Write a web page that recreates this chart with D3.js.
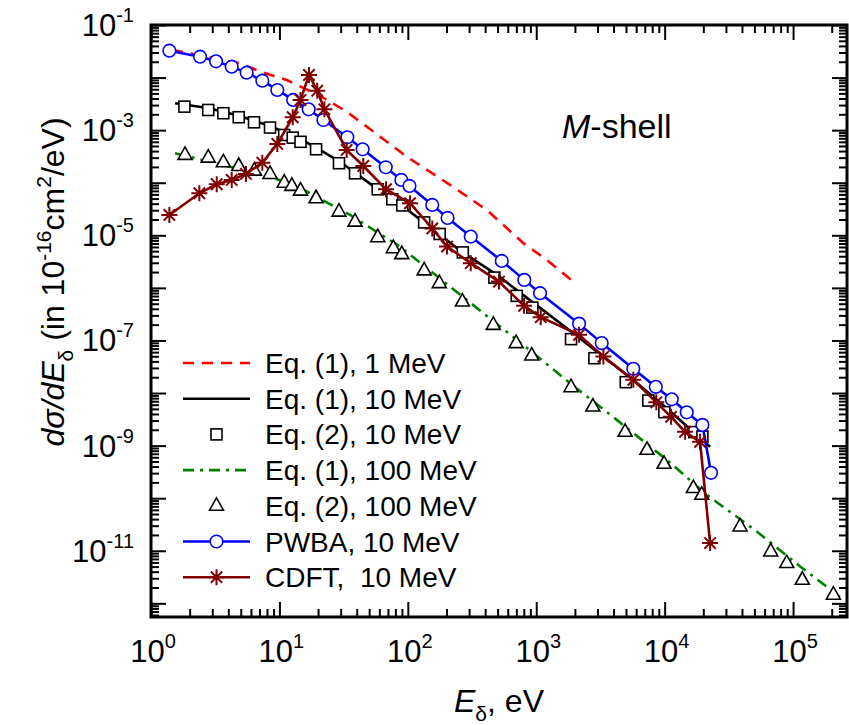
<!DOCTYPE html>
<html>
<head>
<meta charset="utf-8">
<script src="https://cdn.jsdelivr.net/npm/d3@7"></script>
<style>
    body { margin: 0; background: #fff; }
    svg { display: block; font-family: "Liberation Sans", Arial, sans-serif; }
</style>
</head>
<body>
<svg id="chart" width="849" height="725"></svg>
<script>
// Reeksen als [E (eV), dσ/dE].
var eq1_1MeV = [[1.46, 3.35e-2], [4.9, 1.87e-2], [7.5, 1.24e-2], [11.4, 9.0e-3], [20.7, 4.5e-3],
    [33.4, 2.25e-3], [53.8, 9.4e-4], [98, 3.13e-4], [213, 9.1e-5], [411, 3.04e-5],
    [794, 7.1e-6], [1208, 3.4e-6], [1945, 1.32e-6]];

var eq1_10MeV = [[1.54, 3.24e-3], [2.78, 2.64e-3], [4.93, 1.86e-3], [8.45, 1.2e-3], [14.5, 6.8e-4],
    [20.7, 4.2e-4], [29.6, 2.5e-4], [53.6, 8.7e-5], [86.9, 3.95e-5], [141, 1.58e-5],
    [264, 4.83e-6], [495, 1.77e-6], [1071, 4.17e-7], [1936, 1.39e-7], [5675, 1.78e-8],
    [10070, 5.47e-9], [16640, 1.83e-9], [22590, 9.5e-10]];

var eq2_10MeV = [[1.82, 2.8e-3], [2.79, 2.42e-3], [3.66, 2.1e-3], [4.82, 1.76e-3], [6.34, 1.41e-3],
    [8.45, 1.12e-3], [10.9, 8.1e-4], [12.7, 7.2e-4], [14.6, 6.0e-4], [19.3, 4.33e-4],
    [29.1, 2.35e-4], [38.8, 1.51e-4], [58.3, 7.5e-5], [75.7, 4.85e-5], [90.6, 3.7e-5],
    [134, 1.76e-5], [177, 1.06e-5], [268, 4.73e-6], [472, 1.57e-6], [705, 7.05e-7],
    [933, 4.22e-7], [1866, 1.06e-7], [2836, 4.6e-8], [4980, 1.61e-8], [7460, 7.2e-9],
    [9950, 4.33e-9], [17030, 1.81e-9], [19680, 1.49e-9]];

var eq1_100MeV = [[1.54, 3.63e-4], [8.45, 1.31e-4], [14.5, 7.96e-5], [35.5, 2.44e-5], [86.9, 6.1e-6],
    [949, 5.74e-8], [1832, 1.54e-8], [4236, 3.09e-9], [10380, 5.37e-10], [21280, 1.16e-10],
    [52120, 2.33e-11], [113500, 5.03e-12], [232000, 1.33e-12]];

var eq2_100MeV = [[1.84, 3.38e-4], [2.79, 3.0e-4], [3.66, 2.45e-4], [4.82, 2.08e-4], [6.38, 1.7e-4],
    [8.45, 1.47e-4], [10.9, 1.0e-4], [12.5, 8.7e-5], [14.6, 7.07e-5], [19.3, 5.07e-5],
    [29.1, 2.82e-5], [38.8, 1.82e-5], [58.3, 9.2e-6], [77.1, 5.69e-6], [89.7, 4.38e-6],
    [134, 2.15e-6], [176, 1.23e-6], [266, 5.5e-7], [463, 1.98e-7], [697, 8.9e-8],
    [922, 5.16e-8], [1866, 1.29e-8], [2760, 5.53e-9], [4920, 1.83e-9], [7290, 8.32e-10],
    [9890, 4.51e-10], [16740, 1.56e-10], [19450, 1.16e-10], [38650, 2.9e-11],
    [67000, 9.7e-12], [89300, 5.84e-12], [118000, 2.81e-12], [206000, 1.46e-12]];

var pwba_10MeV = [[1.39, 3.25e-2], [2.41, 2.5e-2], [3.21, 2.04e-2], [4.25, 1.61e-2], [5.56, 1.24e-2],
    [7.36, 8.73e-3], [9.63, 5.81e-3], [12.8, 3.75e-3], [16.9, 2.49e-3], [22.0, 1.56e-3],
    [33.8, 7.33e-4], [44.5, 4.33e-4], [67.3, 1.97e-4], [89.0, 1.13e-4], [103, 8.69e-5],
    [155, 3.78e-5], [204, 2.14e-5], [309, 9.45e-6], [539, 3.26e-6], [807, 1.42e-6],
    [1071, 7.93e-7], [2155, 2.09e-7], [3236, 8.9e-8], [5700, 2.89e-8], [8530, 1.31e-8],
    [11360, 7.59e-9], [14860, 4.3e-9], [19680, 2.48e-9], [22970, 3.04e-10]];

var cdft_10MeV = [[1.39, 2.44e-5], [2.38, 6.31e-5], [3.25, 9.35e-5], [4.25, 1.13e-4], [5.49, 1.47e-4],
    [7.36, 2.41e-4], [9.63, 5.47e-4], [12.7, 1.76e-3], [14.6, 3.75e-3], [17.0, 1.12e-2],
    [19.7, 5.64e-3], [22.4, 2.49e-3], [33.4, 4.21e-4], [45.0, 2.08e-4], [67.6, 7.52e-5],
    [104, 4.07e-5], [155, 1.35e-5], [202, 6.1e-6], [309, 2.95e-6], [513, 1.32e-6],
    [804, 4.55e-7], [1084, 2.77e-7], [2155, 1.28e-7], [3334, 4.94e-8], [5700, 1.78e-8],
    [8610, 6.65e-9], [11220, 3.53e-9], [14420, 1.83e-9], [18870, 1.18e-9], [22590, 1.4e-11]];

var xMajor = [1, 10, 100, 1e3, 1e4, 1e5];
var yMajor = [1e-12, 1e-11, 1e-10, 1e-9, 1e-8, 1e-7, 1e-6, 1e-5, 1e-4, 1e-3, 1e-2, 1e-1];
var yLabelled = [-1, -3, -5, -7, -9, -11];

var legendLabels = ['Eq. (1), 1 MeV', 'Eq. (1), 10 MeV', 'Eq. (2), 10 MeV', 'Eq. (1), 100 MeV',
    'Eq. (2), 100 MeV', 'PWBA, 10 MeV', 'CDFT,  10 MeV'];

(function () {
    'use strict';

    var L = 151, R = 847, T = 25, B = 617;
    var xMin = 1, xMax = 2.63e5, yMin = 5.5e-13, yMax = 0.1;

    var svg = d3.select('#chart');
    var x = d3.scaleLog().domain([xMin, xMax]).range([L, R]);
    var y = d3.scaleLog().domain([yMin, yMax]).range([B, T]);

    function minors(lo, hi) {
        var out = [];
        for (var e = Math.floor(Math.log10(lo)); e <= Math.ceil(Math.log10(hi)); e++) {
            for (var k = 2; k <= 9; k++) {
                var v = k * Math.pow(10, e);
                if (v > lo && v < hi) { out.push(v); }
            }
        }
        return out;
    }
    var xMinor = minors(xMin, xMax);
    var yMinor = minors(yMin, yMax);

    function styleAxis(g) {
        g.select('.domain').remove();
        g.selectAll('.tick line').attr('stroke', '#000').attr('stroke-width', 2);
        g.selectAll('.tick text').remove();
    }

    // Ticks naar binnen op alle vier de zijden.
    [[xMajor, 15], [xMinor, 8]].forEach(function (p) {
        svg.append('g').attr('transform', 'translate(0,' + B + ')')
            .call(d3.axisBottom(x).tickValues(p[0]).tickSize(-p[1]).tickSizeOuter(0)).call(styleAxis);
        svg.append('g').attr('transform', 'translate(0,' + T + ')')
            .call(d3.axisTop(x).tickValues(p[0]).tickSize(-p[1]).tickSizeOuter(0)).call(styleAxis);
    });
    [[yMajor, 15], [yMinor, 8]].forEach(function (p) {
        svg.append('g').attr('transform', 'translate(' + L + ',0)')
            .call(d3.axisLeft(y).tickValues(p[0]).tickSize(-p[1]).tickSizeOuter(0)).call(styleAxis);
        svg.append('g').attr('transform', 'translate(' + R + ',0)')
            .call(d3.axisRight(y).tickValues(p[0]).tickSize(-p[1]).tickSizeOuter(0)).call(styleAxis);
    });

    svg.append('rect').attr('x', L).attr('y', T).attr('width', R - L).attr('height', B - T)
        .attr('fill', 'none').attr('stroke', '#000').attr('stroke-width', 3);

    // Ticklabels 10^n
    xMajor.forEach(function (v) {
        var t = svg.append('text').attr('x', x(v) + 2).attr('y', 662)
            .attr('text-anchor', 'middle').attr('font-size', 31);
        t.append('tspan').text('10');
        t.append('tspan').attr('font-size', 20).attr('dy', -14).text(Math.round(Math.log10(v)));
    });
    yLabelled.forEach(function (e) {
        var t = svg.append('text').attr('x', 134).attr('y', y(Math.pow(10, e)) + 11)
            .attr('text-anchor', 'end').attr('font-size', 31);
        t.append('tspan').text('10');
        t.append('tspan').attr('font-size', 20).attr('dy', -14).text(String(e));
    });

    // Astitels
    var xt = svg.append('text').attr('x', 499).attr('y', 712).attr('text-anchor', 'middle').attr('font-size', 32);
    xt.append('tspan').attr('font-style', 'italic').text('E');
    xt.append('tspan').attr('font-size', 21).attr('dy', 9).text('δ');
    xt.append('tspan').attr('dy', -9).text(', eV');

    var yt = svg.append('text').attr('transform', 'translate(64,' + 282 + ') rotate(-90)')
        .attr('text-anchor', 'middle').attr('font-size', 32);
    yt.append('tspan').attr('font-style', 'italic').text('dσ/dE');
    yt.append('tspan').attr('font-size', 21).attr('dy', 9).text('δ');
    yt.append('tspan').attr('dy', -9).text(' (in 10');
    yt.append('tspan').attr('font-size', 21).attr('dy', -13).text('-16');
    yt.append('tspan').attr('dy', 13).text('cm');
    yt.append('tspan').attr('font-size', 21).attr('dy', -13).text('2');
    yt.append('tspan').attr('dy', 13).text('/eV)');

    var ms = svg.append('text').attr('x', 562).attr('y', 138).attr('font-size', 34);
    ms.append('tspan').attr('font-style', 'italic').text('M');
    ms.append('tspan').text('-shell');

    // Markers
    var DARK = '#800000';
    function drawMarker(g, type, cx, cy) {
        if (type === 'square') {
            g.append('rect').attr('x', cx - 5.5).attr('y', cy - 5.5).attr('width', 11).attr('height', 11)
                .attr('fill', '#fff').attr('stroke', '#000').attr('stroke-width', 1.6);
        } else if (type === 'triangle') {
            g.append('path').attr('transform', 'translate(' + cx + ',' + cy + ')')
                .attr('d', 'M0,-8L7,4.5L-7,4.5Z')
                .attr('fill', '#fff').attr('stroke', '#000').attr('stroke-width', 1.6);
        } else if (type === 'circle') {
            g.append('circle').attr('cx', cx).attr('cy', cy).attr('r', 6.3)
                .attr('fill', '#fff').attr('stroke', '#0000ff').attr('stroke-width', 1.6);
        } else if (type === 'star') {
            g.append('path').attr('transform', 'translate(' + cx + ',' + cy + ')')
                .attr('d', 'M-8,0L8,0M0,-8L0,8M-5.7,-5.7L5.7,5.7M-5.7,5.7L5.7,-5.7')
                .attr('stroke', DARK).attr('stroke-width', 2).attr('fill', 'none');
        }
    }

    var line = d3.line().x(function (d) { return x(d[0]); }).y(function (d) { return y(d[1]); });

    var series = [
        { data: eq1_1MeV, color: '#ff0000', dash: '11,8', width: 2.6 },
        { data: eq1_10MeV, color: '#000', dash: null, width: 2.6 },
        { data: eq2_10MeV, marker: 'square' },
        { data: eq1_100MeV, color: '#008000', dash: '11,6,3,6', width: 2.6 },
        { data: eq2_100MeV, marker: 'triangle' },
        { data: pwba_10MeV, color: '#0000ff', dash: null, width: 2.6, marker: 'circle' },
        { data: cdft_10MeV, color: DARK, dash: null, width: 2.6, marker: 'star' }
    ];

    var plot = svg.append('g');
    series.forEach(function (s) {
        if (s.color) {
            plot.append('path').datum(s.data).attr('d', line).attr('fill', 'none')
                .attr('stroke', s.color).attr('stroke-width', s.width)
                .attr('stroke-dasharray', s.dash);
        }
        if (s.marker) {
            var g = plot.append('g');
            s.data.forEach(function (d) { drawMarker(g, s.marker, x(d[0]), y(d[1])); });
        }
    });

    // Legenda
    var legY0 = 363, legDy = 35.7;
    series.forEach(function (s, i) {
        var cy = legY0 + i * legDy;
        var g = svg.append('g');
        if (s.color) {
            g.append('line').attr('x1', 183).attr('x2', 250).attr('y1', cy).attr('y2', cy)
                .attr('stroke', s.color).attr('stroke-width', s.width).attr('stroke-dasharray', s.dash);
        }
        if (s.marker) { drawMarker(g, s.marker, 216.5, cy); }
        g.append('text').attr('x', 265).attr('y', cy + 10).attr('font-size', 28)
            .attr('xml:space', 'preserve').style('white-space', 'pre').text(legendLabels[i]);
    });
})();
</script>
</body>
</html>
